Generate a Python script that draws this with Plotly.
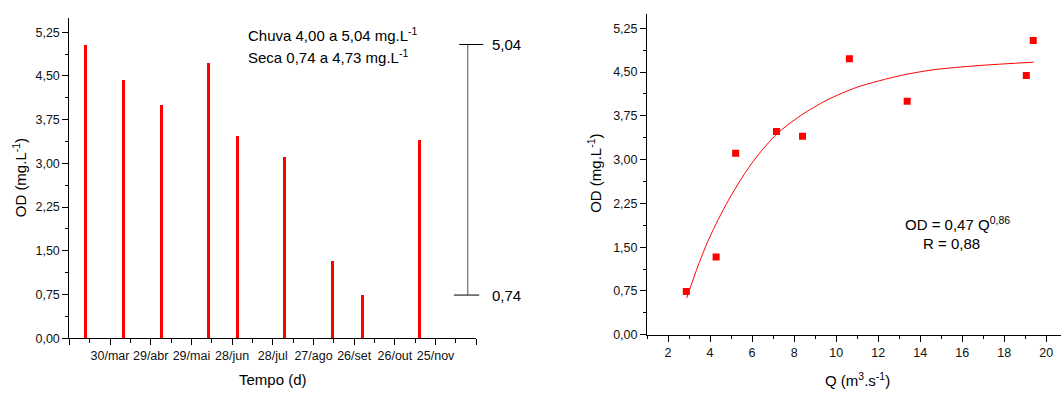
import plotly.graph_objects as go

# ---------------- data ----------------
# Left chart: OD over time (2009 dates)
sample_dates = ["2009-03-12", "2009-04-09", "2009-05-07", "2009-06-11", "2009-07-02",
                "2009-08-06", "2009-09-10", "2009-10-02", "2009-11-13"]
od_values = [5.04, 4.44, 4.00, 4.73, 3.48, 3.11, 1.33, 0.74, 3.40]

tick_dates = ["2009-02-28", "2009-03-30", "2009-04-29", "2009-05-29", "2009-06-28",
              "2009-07-28", "2009-08-27", "2009-09-26", "2009-10-26", "2009-11-25",
              "2009-12-25"]
tick_labels = ["", "30/mar", "29/abr", "29/mai", "28/jun", "28/jul", "27/ago",
               "26/set", "26/out", "25/nov", ""]

y_tickvals = [0, 0.75, 1.50, 2.25, 3.00, 3.75, 4.50, 5.25]
y_ticktext = ["0,00", "0,75", "1,50", "2,25", "3,00", "3,75", "4,50", "5,25"]

range_max = 5.04
range_min = 0.74

# Right chart: OD vs discharge Q
q_values = [2.87, 4.29, 5.22, 7.16, 8.40, 10.63, 13.38, 19.05, 19.38]
od_scatter = [0.74, 1.33, 3.11, 3.48, 3.40, 4.73, 4.00, 4.44, 5.04]

# fitted curve
fit_q = [2.89, 3.44, 3.92, 4.40, 4.87, 5.52, 6.22, 7.18, 8.29, 9.56, 10.99, 13.05,
         14.63, 16.70, 19.40]
fit_od = [0.63, 1.19, 1.62, 1.98, 2.30, 2.69, 3.05, 3.44, 3.75, 4.02, 4.24, 4.44,
          4.54, 4.61, 4.67]

q_tickvals = [2, 4, 6, 8, 10, 12, 14, 16, 18, 20]
q_ticktext = [str(v) for v in q_tickvals]

# ---------------- figure ----------------
W, H = 1061, 395
FONT = "Liberation Sans, Arial, sans-serif"
DAY_MS = 86400000


def px(x):
    return x / W


def py(y):
    return 1 - y / H


fig = go.Figure()

fig.add_trace(go.Bar(
    x=sample_dates, y=od_values, width=2.2 * DAY_MS,
    marker=dict(color="#ff0000", line=dict(width=0)),
    xaxis="x", yaxis="y", hoverinfo="x+y",
))

fig.add_trace(go.Scatter(
    x=fit_q, y=fit_od, mode="lines",
    line=dict(color="#ff0000", width=1, shape="spline", smoothing=0.8),
    xaxis="x2", yaxis="y2",
))
fig.add_trace(go.Scatter(
    x=q_values, y=od_scatter, mode="markers",
    marker=dict(symbol="square", size=7, color="#ff0000"),
    xaxis="x2", yaxis="y2",
))

axis_common = dict(
    showgrid=False, zeroline=False, showline=True, linecolor="black", linewidth=1,
    ticks="outside", ticklen=6, tickwidth=1, tickcolor="black",
    tickfont=dict(family=FONT, size=12.5, color="#111"),
)

fig.update_layout(
    width=W, height=H, autosize=False,
    margin=dict(l=0, r=0, t=0, b=0),
    paper_bgcolor="white", plot_bgcolor="white",
    showlegend=False, bargap=0,
    xaxis=dict(
        domain=[px(69.3), px(476.3)], anchor="y", type="date",
        range=[tick_dates[0], tick_dates[-1]],
        tickmode="array", tickvals=tick_dates, ticktext=tick_labels,
        minor=dict(dtick=15 * DAY_MS, tick0=tick_dates[0], ticks="outside",
                   ticklen=4, tickcolor="black"),
        **axis_common,
    ),
    yaxis=dict(
        domain=[py(344.3), py(18)], anchor="x", range=[0, 5.5],
        tickmode="array", tickvals=y_tickvals, ticktext=y_ticktext,
        minor=dict(dtick=0.375, tick0=0, ticks="outside", ticklen=3, tickcolor="black"),
        **axis_common,
    ),
    xaxis2=dict(
        domain=[px(647), 1.0], anchor="y2", range=[1, 20.7],
        tickmode="array", tickvals=q_tickvals, ticktext=q_ticktext,
        minor=dict(dtick=1, tick0=0, ticks="outside", ticklen=3, tickcolor="black"),
        **axis_common,
    ),
    yaxis2=dict(
        domain=[py(340.7), py(14)], anchor="x2", range=[0, 5.5],
        tickmode="array", tickvals=y_tickvals, ticktext=y_ticktext,
        minor=dict(dtick=0.375, tick0=0, ticks="outside", ticklen=3, tickcolor="black"),
        **axis_common,
    ),
)

# range bracket on the left chart
fig.add_shape(type="line", xref="x domain", yref="y", x0=0.979, x1=0.979,
              y0=range_min, y1=range_max, line=dict(color="#6e6e6e", width=1.2))
fig.add_shape(type="line", xref="x domain", yref="y", x0=0.958, x1=1.017,
              y0=range_max, y1=range_max, line=dict(color="black", width=1))
fig.add_shape(type="line", xref="x domain", yref="y", x0=0.945, x1=1.007,
              y0=range_min, y1=range_min, line=dict(color="black", width=1))

txt = dict(family=FONT, size=15, color="black")
ann = [
    dict(x=1.034, y=range_max, xref="x domain", yref="y", xanchor="left", yanchor="middle",
         text=f"{range_max:.2f}".replace(".", ","), font=txt),
    dict(x=1.034, y=range_min, xref="x domain", yref="y", xanchor="left", yanchor="middle",
         text=f"{range_min:.2f}".replace(".", ","), font=txt),
    dict(x=px(245.5), y=py(35), xanchor="left", yanchor="middle",
         text="Chuva 4,00 a 5,04 mg.L<sup>-1</sup>", font=txt),
    dict(x=px(245.5), y=py(58), xanchor="left", yanchor="middle",
         text="Seca 0,74 a 4,73 mg.L<sup>-1</sup>", font=txt),
    dict(x=px(957), y=py(228), xanchor="center", yanchor="middle",
         text="OD = 0,47 Q<sup>0,86</sup>", font=txt),
    dict(x=px(951), y=py(248), xanchor="center", yanchor="middle",
         text="R = 0,88", font=txt),
    # axis titles
    dict(x=px(19.5), y=py(181), xanchor="center", yanchor="middle", textangle=-90,
         text="OD (mg.L<sup>-1</sup>)", font=dict(family=FONT, size=15, color="black")),
    dict(x=px(272.8), y=py(386), xanchor="center", yanchor="middle",
         text="Tempo (d)", font=dict(family=FONT, size=15, color="black")),
    dict(x=px(595), y=py(177), xanchor="center", yanchor="middle", textangle=-90,
         text="OD (mg.L<sup>-1</sup>)", font=dict(family=FONT, size=15, color="black")),
    dict(x=px(857), y=py(386), xanchor="center", yanchor="middle",
         text="Q (m<sup>3</sup>.s<sup>-1</sup>)", font=dict(family=FONT, size=15, color="black")),
]
for a in ann:
    a.setdefault("xref", "paper")
    a.setdefault("yref", "paper")
    a["showarrow"] = False
    fig.add_annotation(**a)

fig.write_html("out.html", post_script="document.body.style.margin='0px';",
               config={"displayModeBar": False})
